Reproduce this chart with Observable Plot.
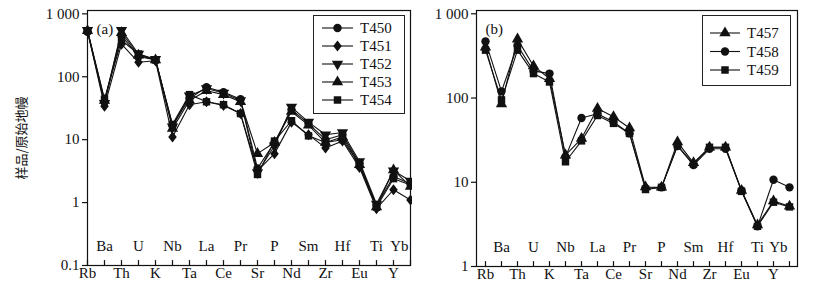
<!DOCTYPE html>
<html><head><meta charset="utf-8">
<script src="https://cdn.jsdelivr.net/npm/d3@7"></script>
<script src="https://cdn.jsdelivr.net/npm/@observablehq/plot@0.6"></script>
<style>
body{margin:0;background:#fff;}
#wrap{position:relative;width:818px;height:294px;overflow:hidden;font-family:"Liberation Serif",serif;background:#fff;}
#wrap > svg{position:absolute;top:0;}
#ylab{position:absolute;left:20px;top:138px;transform:translate(-50%,-50%) rotate(-90deg);white-space:nowrap;font-family:"Noto Sans CJK SC",sans-serif;font-size:13px;color:#111;}
</style></head><body><div id="wrap"><div id="ylab">样品/原始地幔</div></div>
<script>
// Elements (x categories)
const elements = ["Rb","Ba","Th","U","K","Nb","Ta","La","Ce","Pr","Sr","P","Nd","Sm","Zr","Hf","Eu","Ti","Y","Yb"];
// Tick values
const ticksA = [0.1, 1, 10, 100, 1000];
const ticksB = [1, 10, 100, 1000];
// Panel (a) series
const namesA = ["T450","T451","T452","T453","T454"];
const T450 = [520, 40, 450, 210, 185, 17, 45, 68, 57, 44, 3.5, 9, 30, 18, 10, 12, 4.2, 0.9, 2.6, 2.0];
const T451 = [530, 34, 330, 170, 180, 11, 36, 40, 35, 26, 3.2, 6, 19, 12, 7.4, 9.5, 3.6, 0.8, 1.6, 1.1];
const T452 = [550, 38, 550, 230, 190, 16, 50, 65, 55, 42, 3.0, 8, 33, 19, 12, 13, 4.5, 0.95, 3.2, 2.2];
const T453 = [540, 42, 500, 220, 185, 15, 42, 60, 52, 40, 6.0, 9, 28, 17, 9, 11, 4.0, 0.85, 3.3, 1.8];
const T454 = [540, 44, 380, 230, 185, 17.5, 52, 40, 36, 26, 2.8, 9.5, 20, 11.5, 9, 10, 4.0, 0.85, 2.4, 1.9];
// Panel (b) series
const namesB = ["T457","T458","T459"];
const T457 = [400, 85, 500, 240, 170, 21, 33, 75, 60, 44, 8.8, 8.7, 30, 17, 26, 26, 8.0, 3.1, 6.0, 5.2];
const T458 = [470, 120, 420, 210, 195, 20, 58, 65, 52, 38, 8.5, 8.7, 27, 16, 25, 25, 8.0, 3.0, 10.7, 8.7];
const T459 = [370, 95, 370, 195, 155, 17.5, 31, 62, 50, 38, 8.2, 8.7, 27, 16.5, 26, 26, 7.8, 3.0, 5.8, 5.1];

const sqrt3 = Math.sqrt(3);
const triangleDown = {draw(ctx, size){ const y = -Math.sqrt(size/(sqrt3*3)); ctx.moveTo(0,-2*y); ctx.lineTo(-sqrt3*y, y); ctx.lineTo(sqrt3*y, y); ctx.closePath(); }};
const diamond = {draw(ctx, size){ const r = Math.sqrt(size/2) * 0.95; ctx.moveTo(0,-r*1.1); ctx.lineTo(r*0.85,0); ctx.lineTo(0,r*1.1); ctx.lineTo(-r*0.85,0); ctx.closePath(); }};
const symA = {T450: d3.symbolCircle, T451: diamond, T452: triangleDown, T453: d3.symbolTriangle, T454: d3.symbolSquare};
const symB = {T457: d3.symbolTriangle, T458: d3.symbolCircle, T459: d3.symbolSquare};
const seriesA = {T450, T451, T452, T453, T454};
const seriesB = {T457, T458, T459};

const fmt = d => d === 1000 ? "1 000" : String(d);
const tickShape = {draw(ctx, l){ ctx.moveTo(0,0); ctx.lineTo(0,-l); }};
const topLabels = elements.filter((d,i) => i % 2 === 1);
const bottomLabels = elements.filter((d,i) => i % 2 === 0);
const lastLabel = topLabels[topLabels.length - 1];

function panel(names, series, syms, ticks, domain, opts, tag) {
  const rows = names.flatMap(n => series[n].map((v,i) => ({name:n, el:elements[i], v})));
  const marks = [
    Plot.frame({stroke:"#111", strokeWidth:1.2}),
    Plot.axisY({ticks, tickFormat: fmt, tickSize:5, tickPadding:3, label:null, strokeWidth:1.2}),
    Plot.vector(elements, {x: d=>d, frameAnchor:"bottom", length:5, anchor:"start", rotate:0, shape: tickShape, stroke:"#111", strokeWidth:1.2}),
    Plot.text(topLabels.filter(d => d !== lastLabel), {x: d=>d, text: d=>d, frameAnchor:"bottom", dy:-15, fill:"#111"}),
    Plot.text([lastLabel], {x: d=>d, text: d=>d, frameAnchor:"bottom", dy:-15, dx:-2, textAnchor:"end", fill:"#111"}),
    Plot.text(bottomLabels, {x: d=>d, text: d=>d, frameAnchor:"bottom", dy:12, fill:"#111"}),
    Plot.text([tag], {frameAnchor:"top-left", dx:9, dy:13, textAnchor:"start", fill:"#111"}),
    Plot.line(rows, {x:"el", y:"v", z:"name", stroke:"#111", strokeWidth:1.1})
  ];
  for (const n of names) {
    marks.push(Plot.dot(rows.filter(r => r.name === n), {x:"el", y:"v", symbol: syms[n], r:4.2, fill:"#111", stroke:"none"}));
  }
  return Plot.plot({
    width: opts.width, height: 294,
    marginLeft: opts.ml, marginRight: opts.mr, marginTop: 10, marginBottom: opts.mb,
    style: {fontFamily: "Liberation Serif, serif", fontSize: "15px", color:"#111", background:"transparent"},
    x: {type:"point", domain: elements, padding: 0, axis: null},
    y: {type:"log", domain, axis: null},
    marks
  });
}

const wrap = document.getElementById("wrap");
const a = panel(namesA, seriesA, symA, ticksA, [0.1, 1130], {width:412, ml:87, mr:2, mb:29}, "(a)");
a.style.left = "0px";
wrap.appendChild(a);
const b = panel(namesB, seriesB, symB, ticksB, [1, 1094], {width:406, ml:64, mr:21, mb:28}, "(b)");
b.style.left = "412px";
wrap.appendChild(b);

// Legends
function legend(names, syms, box) {
  const svg = d3.create("svg").attr("width", box.w + 2).attr("height", box.h + 2)
    .style("position","absolute").style("left", box.x + "px").style("top", box.y + "px");
  svg.append("rect").attr("x",0.5).attr("y",0.5).attr("width",box.w).attr("height",box.h)
    .attr("fill","#fff").attr("stroke","#222").attr("stroke-width",1);
  names.forEach((n,i) => {
    const cy = box.y0 + i * box.dy;
    svg.append("line").attr("x1", box.l1).attr("x2", box.l2).attr("y1", cy).attr("y2", cy).attr("stroke","#111").attr("stroke-width",1.1);
    svg.append("path").attr("d", d3.symbol().type(syms[n]).size(56)()).attr("transform", `translate(${(box.l1+box.l2)/2},${cy})`).attr("fill","#111");
    svg.append("text").attr("x", box.tx).attr("y", cy).attr("dy","0.35em").attr("font-family","Liberation Serif, serif").attr("font-size",15).attr("fill","#111").text(n);
  });
  wrap.appendChild(svg.node());
}
legend(namesA, symA, {x:313, y:15, w:91, h:98, y0:13, dy:18, l1:9, l2:40, tx:47});
legend(namesB, symB, {x:702, y:15, w:88, h:70, y0:18, dy:18.5, l1:8, l2:38, tx:45});
</script>
</body></html>
